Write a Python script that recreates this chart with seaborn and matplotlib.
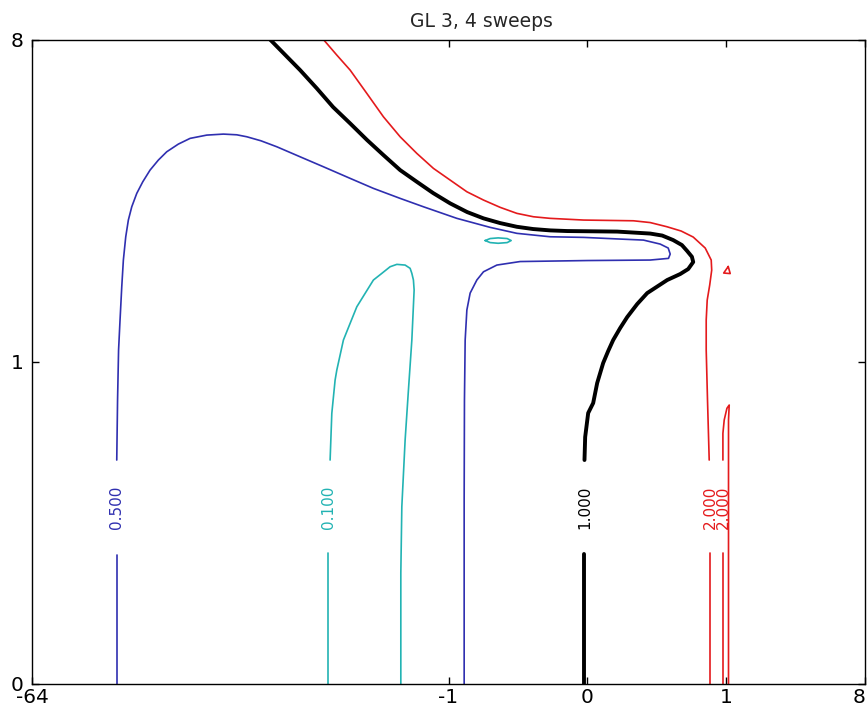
import numpy as np
import matplotlib
matplotlib.use('Agg')
import matplotlib.pyplot as plt
import seaborn as sns

# Contour lines, in data units.
# Both axes use a cube-root scale. None = break in the line for the inline label.

# |R| = 0.5 (blue)
blue_x = [-39.0, -39.0, None, -38.95, -38.75, -38.5, -38.14, -37.72, -37.33, -36.76,
          -36.14, -35.34, -34.19, -32.84, -31.25, -29.51, -27.81, -25.57, -23.43,
          -20.60, -18.02, -16.10, -14.76, -13.00, -11.19, -8.859, -6.873, -4.99,
          -3.660, -2.453, -1.647, -0.831, -0.3434, -0.131, -0.0193, -0.00002, 0.0132,
          0.0660, 0.1443, 0.1973, 0.2123, 0.1995, 0.0926, 0.0, -0.1135, -0.2772,
          -0.419, -0.5046, -0.602, -0.654, -0.682, -0.694, -0.699, -0.699]
blue_y = [0.0, 0.0641, None, 0.3357, 0.684, 1.113, 1.441, 1.873, 2.277, 2.673,
          2.984, 3.248, 3.529, 3.785, 4.056, 4.297, 4.505, 4.703, 4.854,
          4.942, 4.969, 4.950, 4.897, 4.790, 4.633, 4.379, 4.135, 3.863,
          3.638, 3.422, 3.248, 3.017, 2.845, 2.735, 2.673, 2.662, 2.632,
          2.614, 2.544, 2.476, 2.375, 2.304, 2.277, 2.269, 2.253, 2.197,
          2.093, 1.970, 1.785, 1.563, 1.216, 0.684, 0.186, 0.0]

# |R| = 0.1 (cyan)
cyan_x = [-6.49, -6.49, None, -6.363, -6.237, -5.999, -5.878, -5.426, -4.99, -4.580,
          -4.103, -3.660, -3.245, -2.868, -2.585, -2.262, -2.081, -2.021, -1.967,
          -1.943, -2.021, -2.141, -2.262, -2.387, -2.426, -2.426]
cyan_y = [0.0, 0.0672, None, 0.3357, 0.5925, 0.8391, 0.9247, 1.216, 1.402, 1.604,
          1.781, 1.970, 2.069, 2.171, 2.208, 2.197, 2.146, 2.069, 1.970,
          1.827, 1.216, 0.759, 0.434, 0.1665, 0.0409, 0.0]
island_x = [-0.3992, -0.3434, -0.2654, -0.1929, -0.1655, -0.1929, -0.2654, -0.3434, -0.3992]
island_y = [2.606, 2.641, 2.653, 2.641, 2.606, 2.570, 2.558, 2.570, 2.606]

# |R| = 1 (black)
black_x = [-11.94, -8.859, -7.40, -6.143, -4.99, -3.993, -3.17, -2.453, -1.854,
           -1.371, -0.966, -0.6494, -0.419, -0.248, -0.131, -0.0595, -0.0193, -0.00308,
           0.0099, 0.0926, 0.1565, 0.2362, 0.3156, 0.3717, 0.4268, 0.4429, 0.383,
           0.2989, 0.19, 0.08, 0.0462, 0.0236, 0.0132, 0.00642, 0.003366, 0.00147,
           0.000352, 0.000073, 0.0000002, -0.000004, -0.000009, None, -0.000009, -0.000009]
black_y = [8.0, 6.914, 6.314, 5.738, 5.265, 4.809, 4.422, 4.056, 3.785,
           3.536, 3.318, 3.141, 3.017, 2.926, 2.856, 2.814, 2.789, 2.777,
           2.767, 2.731, 2.695, 2.614, 2.527, 2.425, 2.330, 2.245, 2.135,
           2.059, 1.970, 1.785, 1.639, 1.476, 1.348, 1.216, 1.103, 0.988,
           0.8146, 0.6627, 0.5945, 0.4501, 0.3357, None, 0.0656, 0.0]

# |R| = 2 (red)
red_x = [-6.873, -5.878, -4.99, -4.009, -3.17, -2.453, -1.854, -1.363, -0.966, -0.654,
         -0.419, -0.248, -0.131, -0.0586, -0.0193, -0.00002, 0.0366, 0.0926, 0.1879,
         0.3086, 0.4429, 0.6113, 0.7096, 0.7182, 0.6841, 0.643, 0.627, 0.627, 0.6478,
         0.6757, None, 0.6925, 0.6925]
red_y = [8.0, 7.433, 6.914, 6.156, 5.453, 4.897, 4.464, 4.096, 3.824, 3.564,
         3.387, 3.236, 3.115, 3.048, 3.017, 2.984, 2.970, 2.936, 2.857,
         2.777, 2.668, 2.476, 2.277, 2.119, 1.897, 1.691, 1.441, 1.113, 0.684,
         0.3357, None, 0.0672, 0.0]
red_loop_x = [0.9303, 0.9303, None, 0.9303, 0.9303, 0.9574, 1.0152, 1.0662, 1.0505, 1.0505, 1.0505]
red_loop_y = [0.0, 0.0672, None, 0.3357, 0.4706, 0.5496, 0.6259, 0.6487, 0.5496, 0.1861, 0.0]
red_tri_x = [1.0439, 0.9469, 1.089, 1.0439]
red_tri_y = [2.174, 2.074, 2.066, 2.174]

# inline contour labels
label_text = ['0.500', '0.100', '1.000', '2.000', '2.000']
label_x = [-39.0, -6.45, -0.000009, 0.6925, 0.9303]
label_y = 0.164

x_ticks = [-64, -1, 0, 1, 8]
y_ticks = [0, 1, 8]

BLUE = '#2f2fb0'
CYAN = '#22b3b3'
BLACK = '#000000'
RED = '#e41a1c'
label_colors = [BLUE, CYAN, BLACK, RED, RED]

sns.set_style('white')
plt.rcParams['font.family'] = ['DejaVu Sans']
plt.rcParams['axes.unicode_minus'] = False

fig = plt.figure(figsize=(8.68, 7.13), dpi=100)
ax = fig.add_axes([0.0369, 0.0407, 0.9597, 0.9039])


def draw_curve(xs, ys, color, lw):
    # split on None so the label gaps stay open
    seg_x, seg_y = [], []
    for x, y in zip(xs + [None], ys + [None]):
        if x is None:
            if seg_x:
                sns.lineplot(x=seg_x, y=seg_y, sort=False, estimator=None,
                             color=color, linewidth=lw, ax=ax)
            seg_x, seg_y = [], []
        else:
            seg_x.append(x)
            seg_y.append(y)


draw_curve(blue_x, blue_y, BLUE, 1.2)
draw_curve(cyan_x, cyan_y, CYAN, 1.2)
draw_curve(island_x, island_y, CYAN, 1.2)
draw_curve(red_x, red_y, RED, 1.2)
draw_curve(red_loop_x, red_loop_y, RED, 1.2)
draw_curve(red_tri_x, red_tri_y, RED, 1.2)
draw_curve(black_x, black_y, BLACK, 2.8)

for t, x, c in zip(label_text, label_x, label_colors):
    ax.text(x, label_y, t, rotation=90, ha='center', va='center',
            color=c, fontsize=11)

# cube-root axes
ax.set_xscale('function', functions=(np.cbrt, lambda v: v ** 3))
ax.set_yscale('function', functions=(np.cbrt, lambda v: v ** 3))
ax.set_xlim(-64, 8)
ax.set_ylim(0, 8)
ax.set_xticks(x_ticks)
ax.set_xticklabels([str(t) for t in x_ticks])
ax.set_yticks(y_ticks)
ax.set_yticklabels([str(t) for t in y_ticks])
ax.minorticks_off()
ax.set_xlabel('')
ax.set_ylabel('')

ax.tick_params(direction='in', bottom=True, left=True, top=True, right=True,
               length=5, width=1, color='black', labelsize=14.5, labelcolor='black')
ax.tick_params(axis='x', pad=3)
ax.tick_params(axis='y', pad=6)
# keep the last x label inside the figure
ax.get_xticklabels()[-1].set_horizontalalignment('right')
for s in ax.spines.values():
    s.set_color('black')
    s.set_linewidth(1.0)

ax.set_title('GL 3, 4 sweeps', fontsize=13.5, x=0.539, pad=9)

fig.savefig('out.png', dpi=100)
